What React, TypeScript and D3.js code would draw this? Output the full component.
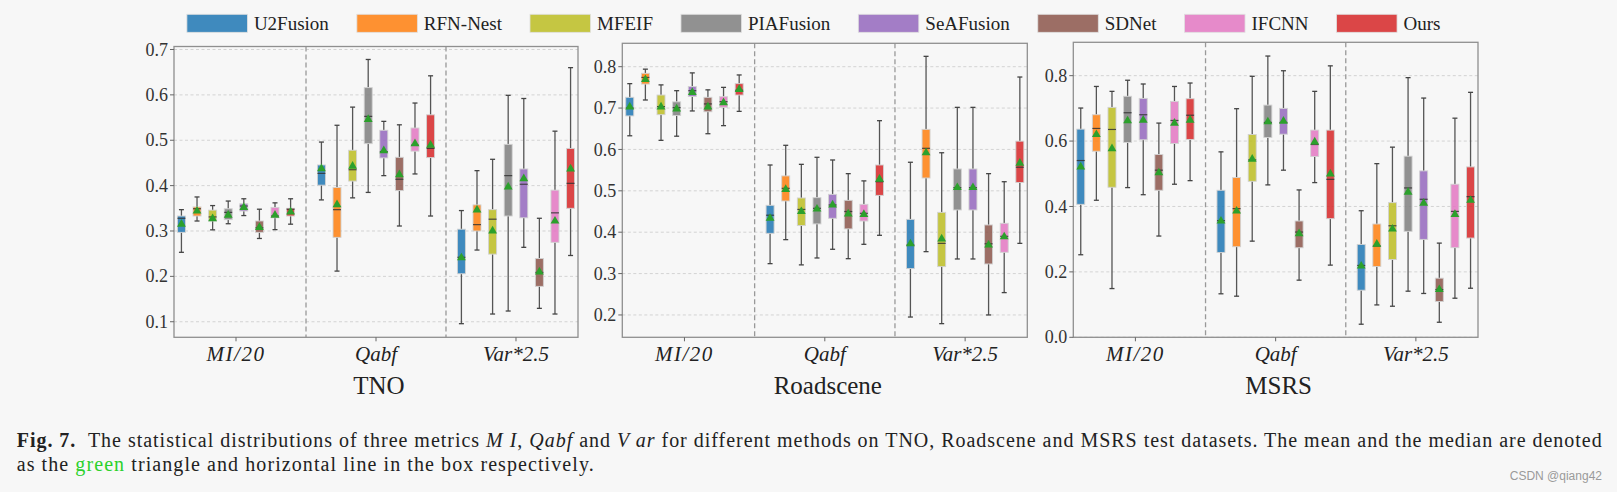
import React, { useEffect, useRef } from "react";
import * as d3 from "d3";

const W = 1617;
const H = 492;

const methods = ["U2Fusion", "RFN-Nest", "MFEIF", "PIAFusion", "SeAFusion", "SDNet", "IFCNN", "Ours"];
const methodColors = ["#1f77b4", "#ff7f0e", "#bcbd22", "#7f7f7f", "#9467bd", "#8c564b", "#e377c2", "#d62728"];
const metricLabels = ["MI/20", "Qabf", "Var*2.5"];
const datasetNames = ["TNO", "Roadscene", "MSRS"];

// each row: [whiskerLow, q1, median, q3, whiskerHigh, mean]
const tnoMI = [
  [0.253, 0.297, 0.328, 0.333, 0.347, 0.315],
  [0.322, 0.333, 0.349, 0.353, 0.375, 0.344],
  [0.3025, 0.322, 0.331, 0.346, 0.356, 0.327],
  [0.316, 0.325, 0.341, 0.349, 0.366, 0.335],
  [0.334, 0.344, 0.355, 0.36, 0.371, 0.352],
  [0.2835, 0.297, 0.307, 0.322, 0.348, 0.308],
  [0.303, 0.329, 0.333, 0.352, 0.362, 0.335],
  [0.315, 0.333, 0.348, 0.35, 0.371, 0.342],
];
const tnoQabf = [
  [0.3685, 0.401, 0.427, 0.4455, 0.496, 0.4375],
  [0.2116, 0.286, 0.347, 0.396, 0.533, 0.358],
  [0.373, 0.41, 0.435, 0.478, 0.573, 0.443],
  [0.385, 0.4925, 0.5526, 0.616, 0.678, 0.546],
  [0.422, 0.461, 0.475, 0.522, 0.5416, 0.477],
  [0.311, 0.389, 0.414, 0.4624, 0.534, 0.424],
  [0.4257, 0.476, 0.489, 0.527, 0.582, 0.4925],
  [0.333, 0.4617, 0.482, 0.556, 0.642, 0.489],
];
const tnoVar = [
  [0.0957, 0.2057, 0.242, 0.304, 0.345, 0.241],
  [0.258, 0.3, 0.314, 0.3575, 0.433, 0.3465],
  [0.117, 0.249, 0.326, 0.347, 0.458, 0.3],
  [0.1236, 0.333, 0.422, 0.491, 0.599, 0.397],
  [0.264, 0.329, 0.403, 0.4367, 0.592, 0.4155],
  [0.1295, 0.178, 0.2087, 0.2395, 0.328, 0.21],
  [0.117, 0.275, 0.34, 0.39, 0.52, 0.322],
  [0.246, 0.35, 0.405, 0.482, 0.66, 0.437],
];
const roadMI = [
  [0.633, 0.681, 0.7, 0.726, 0.759, 0.703],
  [0.7195, 0.758, 0.774, 0.784, 0.794, 0.769],
  [0.622, 0.684, 0.7035, 0.7315, 0.756, 0.703],
  [0.632, 0.682, 0.701, 0.715, 0.742, 0.698],
  [0.693, 0.728, 0.742, 0.752, 0.785, 0.738],
  [0.638, 0.691, 0.71, 0.726, 0.744, 0.703],
  [0.6575, 0.7017, 0.7155, 0.7275, 0.75, 0.713],
  [0.692, 0.7315, 0.743, 0.759, 0.78, 0.745],
];
const roadQabf = [
  [0.324, 0.3973, 0.441, 0.465, 0.5624, 0.4336],
  [0.382, 0.4754, 0.506, 0.536, 0.61, 0.5036],
  [0.321, 0.416, 0.455, 0.4827, 0.564, 0.45],
  [0.3377, 0.42, 0.4577, 0.4835, 0.581, 0.456],
  [0.3587, 0.4336, 0.4658, 0.4915, 0.5745, 0.466],
  [0.336, 0.408, 0.45, 0.477, 0.5415, 0.444],
  [0.3707, 0.427, 0.4456, 0.4674, 0.524, 0.443],
  [0.3925, 0.489, 0.522, 0.5624, 0.6695, 0.528],
];
const roadVar = [
  [0.195, 0.312, 0.369, 0.431, 0.569, 0.372],
  [0.353, 0.531, 0.6027, 0.6486, 0.825, 0.592],
  [0.179, 0.3168, 0.373, 0.448, 0.592, 0.3836],
  [0.3353, 0.4537, 0.5077, 0.5528, 0.7017, 0.508],
  [0.3353, 0.4537, 0.5077, 0.5528, 0.7017, 0.508],
  [0.2, 0.3232, 0.372, 0.4175, 0.5415, 0.369],
  [0.254, 0.3514, 0.39, 0.4215, 0.522, 0.389],
  [0.373, 0.52, 0.557, 0.62, 0.775, 0.567],
];
const msrsMI = [
  [0.2524, 0.4066, 0.5405, 0.6365, 0.701, 0.521],
  [0.419, 0.569, 0.6386, 0.6805, 0.767, 0.62],
  [0.149, 0.4588, 0.6355, 0.703, 0.752, 0.577],
  [0.4577, 0.5957, 0.6866, 0.737, 0.786, 0.662],
  [0.436, 0.604, 0.6805, 0.7305, 0.7745, 0.664],
  [0.3096, 0.4496, 0.511, 0.559, 0.655, 0.503],
  [0.468, 0.5926, 0.663, 0.7213, 0.767, 0.655],
  [0.479, 0.605, 0.679, 0.7295, 0.7775, 0.664],
];
const msrsQabf = [
  [0.133, 0.2595, 0.3566, 0.4496, 0.567, 0.3555],
  [0.1257, 0.2769, 0.3934, 0.4884, 0.699, 0.3862],
  [0.294, 0.477, 0.5425, 0.62, 0.798, 0.5445],
  [0.466, 0.611, 0.657, 0.71, 0.86, 0.659],
  [0.511, 0.621, 0.657, 0.7, 0.815, 0.661],
  [0.1747, 0.2738, 0.3218, 0.3556, 0.4506, 0.317],
  [0.473, 0.5527, 0.5895, 0.6335, 0.752, 0.5977],
  [0.2207, 0.3627, 0.483, 0.6335, 0.83, 0.4996],
];
const msrsVar = [
  [0.04, 0.144, 0.2197, 0.284, 0.387, 0.218],
  [0.099, 0.2166, 0.279, 0.3464, 0.531, 0.285],
  [0.095, 0.238, 0.341, 0.4117, 0.5814, 0.331],
  [0.141, 0.3239, 0.4567, 0.5538, 0.794, 0.444],
  [0.134, 0.2994, 0.422, 0.5088, 0.7315, 0.41],
  [0.046, 0.1093, 0.146, 0.1808, 0.288, 0.146],
  [0.1195, 0.274, 0.385, 0.468, 0.67, 0.376],
  [0.15, 0.3035, 0.43, 0.521, 0.749, 0.419],
];

const tnoTicks = [0.1, 0.2, 0.3, 0.4, 0.5, 0.6, 0.7];
const roadTicks = [0.2, 0.3, 0.4, 0.5, 0.6, 0.7, 0.8];
const msrsTicks = [0.0, 0.2, 0.4, 0.6, 0.8];

const tnoDomain = [0.0657, 0.7066];
const roadDomain = [0.146, 0.8565];
const msrsDomain = [0.0, 0.902];

const SERIF = "'Liberation Serif', 'Times New Roman', serif";

export default function App() {
  const ref = useRef<SVGSVGElement>(null);

  useEffect(() => {
    document.body.style.margin = "0";
    const svg = d3.select(ref.current as SVGSVGElement);
    svg.selectAll("*").remove();
    svg.append("rect").attr("width", W).attr("height", H).attr("fill", "#f7f7f7");

    // Legend
    let lx = 186.9;
    methods.forEach((m, i) => {
      svg
        .append("rect")
        .attr("x", lx)
        .attr("y", 14.3)
        .attr("width", 60.5)
        .attr("height", 18)
        .attr("fill", methodColors[i])
        .attr("fill-opacity", 0.85)
        .attr("stroke", "#e0e0e0")
        .attr("stroke-width", 0.8);
      const t = svg
        .append("text")
        .attr("x", lx + 67)
        .attr("y", 29.5)
        .attr("font-family", SERIF)
        .attr("font-size", 19)
        .attr("fill", "#222")
        .text(m);
      const tw = (t.node() as SVGTextElement).getComputedTextLength();
      lx += 67 + tw + 28;
    });

    const panels = [
      { name: datasetNames[0], data: [tnoMI, tnoQabf, tnoVar], ticks: tnoTicks, domain: tnoDomain, l: 174, r: 578, t: 46.5, b: 337.3 },
      { name: datasetNames[1], data: [roadMI, roadQabf, roadVar], ticks: roadTicks, domain: roadDomain, l: 622.3, r: 1027.3, t: 43.3, b: 337.3 },
      { name: datasetNames[2], data: [msrsMI, msrsQabf, msrsVar], ticks: msrsTicks, domain: msrsDomain, l: 1073.3, r: 1478, t: 42.3, b: 337.3 },
    ];

    const fmt = d3.format(".1f");
    const tri = d3.symbol().type(d3.symbolTriangle).size(34);

    panels.forEach((p) => {
      const x = d3.scaleLinear().domain([-0.443, 2.443]).range([p.l, p.r]);
      const y = d3.scaleLinear().domain(p.domain).range([p.b, p.t]);
      const g = svg.append("g");

      // grid
      p.ticks.forEach((tv) => {
        g.append("line")
          .attr("x1", p.l).attr("x2", p.r)
          .attr("y1", y(tv)).attr("y2", y(tv))
          .attr("stroke", "#cfcfcf").attr("stroke-width", 0.9)
          .attr("stroke-dasharray", "3,2.5");
      });
      // dividers
      [0.5, 1.5].forEach((dv) => {
        g.append("line")
          .attr("x1", x(dv)).attr("x2", x(dv))
          .attr("y1", p.t).attr("y2", p.b)
          .attr("stroke", "#999").attr("stroke-width", 1.3)
          .attr("stroke-dasharray", "5,3");
      });

      const boxW = 8;
      const capW = 5;
      p.data.forEach((metric, gi) => {
        metric.forEach((s, i) => {
          const cx = x(gi + (i - 3.5) * 0.1114);
          const [lo, q1, med, q3, hi, mean] = s;
          // whiskers
          g.append("line").attr("x1", cx).attr("x2", cx).attr("y1", y(lo)).attr("y2", y(q1))
            .attr("stroke", "#555").attr("stroke-width", 1.3);
          g.append("line").attr("x1", cx).attr("x2", cx).attr("y1", y(q3)).attr("y2", y(hi))
            .attr("stroke", "#555").attr("stroke-width", 1.3);
          [lo, hi].forEach((v) => {
            g.append("line").attr("x1", cx - capW / 2).attr("x2", cx + capW / 2).attr("y1", y(v)).attr("y2", y(v))
              .attr("stroke", "#444").attr("stroke-width", 1.3);
          });
          // box
          g.append("rect")
            .attr("x", cx - boxW / 2).attr("width", boxW)
            .attr("y", y(q3)).attr("height", Math.max(0.5, y(q1) - y(q3)))
            .attr("fill", methodColors[i]).attr("fill-opacity", 0.85)
            .attr("stroke", "#d2d2d2").attr("stroke-width", 0.9);
          // median
          g.append("line").attr("x1", cx - boxW / 2).attr("x2", cx + boxW / 2).attr("y1", y(med)).attr("y2", y(med))
            .attr("stroke", "#333").attr("stroke-opacity", 0.85).attr("stroke-width", 1.2);
          // mean
          g.append("path").attr("d", tri as any).attr("transform", `translate(${cx},${y(mean)})`)
            .attr("fill", "#2ca02c");
        });
      });

      // frame
      g.append("rect").attr("x", p.l).attr("y", p.t).attr("width", p.r - p.l).attr("height", p.b - p.t)
        .attr("fill", "none").attr("stroke", "#8f8f8f").attr("stroke-width", 1.3);

      // y ticks
      p.ticks.forEach((tv) => {
        g.append("line").attr("x1", p.l - 4).attr("x2", p.l).attr("y1", y(tv)).attr("y2", y(tv))
          .attr("stroke", "#666").attr("stroke-width", 1);
        g.append("text").attr("x", p.l - 6).attr("y", y(tv)).attr("dy", "0.34em")
          .attr("text-anchor", "end").attr("font-family", SERIF).attr("font-size", 18).attr("fill", "#333")
          .text(fmt(tv));
      });
      // x ticks
      metricLabels.forEach((lab, gi) => {
        g.append("line").attr("x1", x(gi)).attr("x2", x(gi)).attr("y1", p.b).attr("y2", p.b + 4)
          .attr("stroke", "#666").attr("stroke-width", 1);
        g.append("text").attr("x", x(gi)).attr("y", 360.5)
          .attr("text-anchor", "middle").attr("font-family", SERIF).attr("font-style", "italic")
          .attr("font-size", 21).attr("fill", "#222")
          .attr("letter-spacing", lab === "MI/20" ? 1.5 : 0)
          .text(lab);
      });
      // title
      g.append("text").attr("x", (p.l + p.r) / 2 + 3).attr("y", 394.3)
        .attr("text-anchor", "middle").attr("font-family", SERIF).attr("font-size", 25).attr("fill", "#222")
        .text(p.name);
    });

    // caption
    const c1 = svg.append("text").attr("x", 16.7).attr("y", 447.3)
      .attr("font-family", SERIF).attr("font-size", 20).attr("fill", "#222")
      .attr("textLength", 1585).attr("lengthAdjust", "spacing");
    c1.append("tspan").attr("font-weight", "bold").text("Fig. 7.");
    c1.append("tspan").text("\u00a0 The statistical distributions of three metrics ");
    c1.append("tspan").attr("font-style", "italic").text("M I");
    c1.append("tspan").text(", ");
    c1.append("tspan").attr("font-style", "italic").text("Qabf");
    c1.append("tspan").text(" and ");
    c1.append("tspan").attr("font-style", "italic").text("V ar");
    c1.append("tspan").text(" for different methods on TNO, Roadscene and MSRS test datasets. The mean and the median are denoted");

    const c2 = svg.append("text").attr("x", 16.7).attr("y", 470.5)
      .attr("font-family", SERIF).attr("font-size", 20).attr("fill", "#222")
      .attr("textLength", 577).attr("lengthAdjust", "spacing");
    c2.append("tspan").text("as the ");
    c2.append("tspan").attr("fill", "#2bd12b").text("green");
    c2.append("tspan").text(" triangle and horizontal line in the box respectively.");

    svg.append("text").attr("x", 1602).attr("y", 480).attr("text-anchor", "end")
      .attr("font-family", "'Liberation Sans', Arial, sans-serif").attr("font-size", 12).attr("fill", "#9a9a9a")
      .text("CSDN @qiang42");
  }, []);

  return (
    <svg
      ref={ref}
      width={W}
      height={H}
      style={{ position: "absolute", left: 0, top: 0, display: "block" }}
    />
  );
}
